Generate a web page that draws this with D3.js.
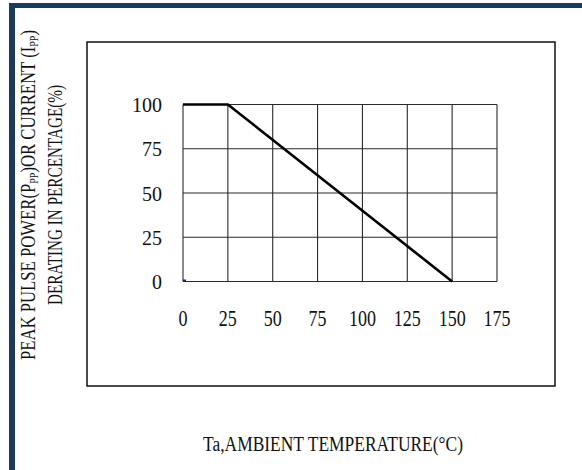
<!DOCTYPE html>
<html><head><meta charset="utf-8">
<script src="https://cdn.jsdelivr.net/npm/d3@7/dist/d3.min.js"></script>
<style>body{margin:0;background:#fff}svg{display:block}text{font-family:"Liberation Serif","Times New Roman",Times,serif;font-weight:400}</style>
</head><body>
<script>
const xTicks = [0, 25, 50, 75, 100, 125, 150, 175];
const yTicks = [0, 25, 50, 75, 100];
const temperature = [0, 25, 150];
const derating = [100, 100, 0];
const xTitle = "Ta,AMBIENT TEMPERATURE(\u00B0C)";
const yTitle1 = ["PEAK PULSE POWER(P", "PP", ")OR CURRENT (I", "PP", ")"];
const yTitle2 = "DERATING IN PERCENTAGE(%)";

const W = 582, H = 470;
const svg = d3.select("body").append("svg").attr("width", W).attr("height", H);

// navy frame
svg.append("rect").attr("x", 9).attr("y", 3).attr("width", W - 9).attr("height", 5).attr("fill", "#1b3a5f");
svg.append("rect").attr("x", 9).attr("y", 3).attr("width", 6).attr("height", H - 3).attr("fill", "#1b3a5f");

// outer box
svg.append("rect").attr("x", 87).attr("y", 42).attr("width", 468).attr("height", 344)
  .attr("fill", "none").attr("stroke", "#111").attr("stroke-width", 1.5);

const x = d3.scaleLinear().domain([0, 175]).range([183, 497]);
const y = d3.scaleLinear().domain([0, 100]).range([281.5, 104.5]);

// grid
const g = svg.append("g");
g.selectAll("line.v").data(xTicks).join("line")
  .attr("x1", d => x(d)).attr("x2", d => x(d)).attr("y1", y(0)).attr("y2", y(100))
  .attr("stroke", "#2a2a2a").attr("stroke-width", 1.1);
g.selectAll("line.h").data(yTicks).join("line")
  .attr("y1", d => y(d)).attr("y2", d => y(d)).attr("x1", x(0)).attr("x2", x(175))
  .attr("stroke", "#2a2a2a").attr("stroke-width", 1.1);

// data line
svg.append("path")
  .datum(temperature.map((t, i) => [t, derating[i]]))
  .attr("d", d3.line().x(d => x(d[0])).y(d => y(d[1])))
  .attr("fill", "none").attr("stroke", "#000").attr("stroke-width", 2.6);

// small origin mark
svg.append("rect").attr("x", x(0)).attr("y", y(0) - 2).attr("width", 3).attr("height", 2).attr("fill", "#1a237e");

// y tick labels
svg.selectAll("text.yt").data(yTicks).join("text")
  .attr("x", 162).attr("y", d => y(d) + 7.5)
  .attr("text-anchor", "end").attr("font-size", 20)
  .attr("fill", "#111").text(d => d);

// x tick labels
svg.selectAll("text.xt").data(xTicks).join("text")
  .attr("x", d => x(d)).attr("y", 326)
  .attr("text-anchor", "middle").attr("font-size", 24)
  .attr("textLength", d => String(d).length * 9).attr("lengthAdjust", "spacingAndGlyphs")
  .attr("fill", "#111").text(d => d);

// x title
svg.append("text").attr("x", 203).attr("y", 450.5)
  .attr("font-size", 20)
  .attr("textLength", 260).attr("lengthAdjust", "spacingAndGlyphs")
  .attr("fill", "#111").text(xTitle);

// y title line 1
const t1 = svg.append("text").attr("transform", "translate(35,360) rotate(-90)")
  .attr("font-size", 20).attr("fill", "#111")
  .attr("textLength", 330).attr("lengthAdjust", "spacingAndGlyphs");
yTitle1.forEach((s, i) => {
  const sp = t1.append("tspan").text(s);
  if (i % 2 === 1) sp.attr("font-size", 12).attr("dy", 3);
  else if (i > 0) sp.attr("dy", -3);
});

// y title line 2
svg.append("text").attr("transform", "translate(62,305) rotate(-90)")
  .attr("font-size", 20).attr("fill", "#111")
  .attr("textLength", 220).attr("lengthAdjust", "spacingAndGlyphs")
  .text(yTitle2);
</script>
</body></html>
